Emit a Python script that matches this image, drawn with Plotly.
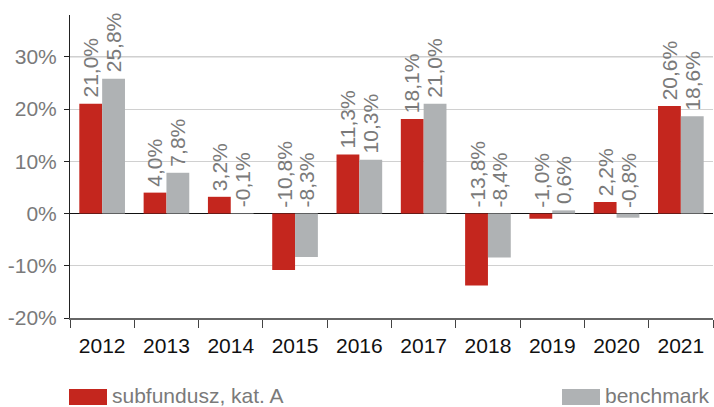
import plotly.graph_objects as go

years = ["2012", "2013", "2014", "2015", "2016", "2017", "2018", "2019", "2020", "2021"]
subfund = [21.0, 4.0, 3.2, -10.8, 11.3, 18.1, -13.8, -1.0, 2.2, 20.6]
benchmark = [25.8, 7.8, -0.1, -8.3, 10.3, 21.0, -8.4, 0.6, -0.8, 18.6]
series_names = ["subfundusz, kat. A", "benchmark"]
y_ticks = [-20, -10, 0, 10, 20, 30]
y_ticklabels = ["-20%", "-10%", "0%", "10%", "20%", "30%"]

RED = "#C4261E"
GRAY = "#AFB2B4"
LABEL = "#7a7a7a"
FONT = "Liberation Sans, Arial, Helvetica, sans-serif"
FS = 21

fig = go.Figure()
fig.add_trace(go.Bar(x=years, y=subfund, name=series_names[0], marker_color=RED,
                     marker_line_width=0, showlegend=False, hoverinfo="skip"))
fig.add_trace(go.Bar(x=years, y=benchmark, name=series_names[1], marker_color=GRAY,
                     marker_line_width=0, showlegend=False, hoverinfo="skip"))

def fmt(v):
    return ("%.1f%%" % v).replace(".", ",")

W, H = 714, 407
ml, mr, mt, mb = 70, 1, 15, 89
pw = W - ml - mr
ph = H - mt - mb
cat_w = pw / len(years)
bargap = 0.29
bar_w = cat_w * (1 - bargap) / 2

def px_to_paper_x(px):
    return (px - ml) / pw

def px_to_paper_y(py):
    return (H - mb - py) / ph

annotations = []
for i, yr in enumerate(years):
    for vals, sh in ((subfund, -bar_w / 2), (benchmark, bar_w / 2)):
        v = vals[i]
        annotations.append(dict(
            x=i, y=max(0, v), xref="x", yref="y", text=fmt(v), textangle=-90,
            showarrow=False, xanchor="center", yanchor="bottom", xshift=sh, yshift=4,
            font=dict(family=FONT, size=FS, color=LABEL)))

# manual legend
LEG_Y = 395.5
annotations.append(dict(x=px_to_paper_x(110), y=px_to_paper_y(LEG_Y), xref="paper", yref="paper",
                        text=series_names[0], showarrow=False, xanchor="left", yanchor="middle",
                        font=dict(family=FONT, size=FS, color=LABEL)))
annotations.append(dict(x=px_to_paper_x(603), y=px_to_paper_y(LEG_Y), xref="paper", yref="paper",
                        text=series_names[1], showarrow=False, xanchor="left", yanchor="middle",
                        font=dict(family=FONT, size=FS, color=LABEL)))

shapes = [
    dict(type="rect", xref="paper", yref="paper", x0=px_to_paper_x(69), x1=px_to_paper_x(107),
         y0=px_to_paper_y(405), y1=px_to_paper_y(389), fillcolor=RED, line_width=0, layer="above"),
    dict(type="rect", xref="paper", yref="paper", x0=px_to_paper_x(562), x1=px_to_paper_x(600),
         y0=px_to_paper_y(405), y1=px_to_paper_y(389), fillcolor=GRAY, line_width=0, layer="above"),
    dict(type="line", xref="paper", yref="y", x0=0, x1=1, y0=30, y1=30,
         line=dict(color="#a8a8a8", width=1), layer="below"),
]

fig.update_layout(
    width=W, height=H,
    margin=dict(l=ml, r=mr, t=mt, b=mb),
    paper_bgcolor="white", plot_bgcolor="white",
    barmode="group", bargap=bargap, bargroupgap=0,
    showlegend=False,
    hovermode=False,
    font=dict(family=FONT, size=FS, color=LABEL),
    annotations=annotations,
    shapes=shapes,
    xaxis=dict(type="category", range=[-0.5, len(years) - 0.5], showgrid=False,
               showline=True, linecolor="#666666", linewidth=2,
               ticks="outside", tickson="boundaries", ticklen=8, tickcolor="#444444", tickwidth=1,
               tickangle=0,
               tickfont=dict(family=FONT, size=FS, color="#111111"), ticklabelstandoff=8),
    yaxis=dict(range=[-20, 38], tickvals=y_ticks, ticktext=y_ticklabels,
               showgrid=True, gridcolor="#d0d0d0", gridwidth=1,
               zeroline=True, zerolinecolor="#111111", zerolinewidth=1,
               showline=True, linecolor="#222222", linewidth=1,
               ticks="outside", ticklen=5, tickcolor="#222222",
               tickfont=dict(family=FONT, size=FS, color=LABEL), ticklabelstandoff=3),
)

fig.write_html("out.html",
               config={"displayModeBar": False, "staticPlot": True},
               post_script="document.body.style.margin='0';document.body.style.overflow='hidden';")
